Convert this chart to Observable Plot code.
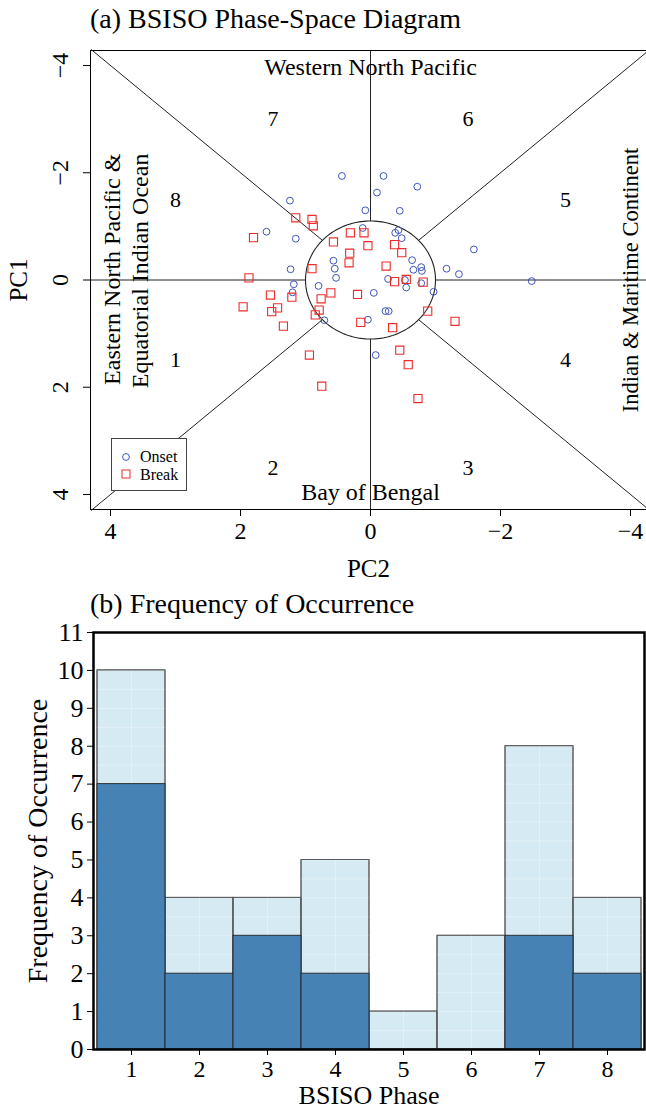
<!DOCTYPE html>
<html><head><meta charset="utf-8">
<script src="https://cdn.jsdelivr.net/npm/d3@7"></script>
<script src="https://cdn.jsdelivr.net/npm/@observablehq/plot@0.6"></script>
<style>
body{margin:0;background:#fff;font-family:"Liberation Serif","Times New Roman",serif;}
#wrap{position:relative;width:646px;height:1111px;overflow:hidden;background:#fff;}
.title{position:absolute;left:90px;font-size:28px;line-height:1;white-space:nowrap;color:#000;}
#panelA{position:absolute;left:0;top:40px;}
#panelB{position:absolute;left:0;top:610px;}
#legend{position:absolute;left:111px;top:438px;width:76px;height:53px;border:1px solid #444;background:#fff;box-sizing:border-box;}
</style></head>
<body><div id="wrap">
<div class="title" style="top:5px">(a) BSISO Phase-Space Diagram</div>
<div id="panelA"></div>
<div id="legend"><svg width="76" height="53" style="font-family:'Liberation Serif',serif;font-size:16px">
<circle cx="14" cy="18" r="3.4" fill="none" stroke="#3d55b8" stroke-width="1"/>
<text x="28" y="23">Onset</text>
<rect x="10" y="31" width="8" height="8" fill="none" stroke="#ee2b2b" stroke-width="1"/>
<text x="28" y="41">Break</text>
</svg></div>
<div class="title" style="top:590px">(b) Frequency of Occurrence</div>
<div id="panelB"></div>
</div>
<script>
// ---- Panel (a) data: BSISO PC2 (x) / PC1 (y) ----
const onsetPC2 = [0.44,-0.20,-0.72,-0.10,1.24,0.08,-0.45,1.60,1.15,0.12,-0.38,-0.43,-0.48,-1.59,0.57,0.55,0.53,1.23,1.18,1.20,0.80,-0.64,-0.66,-0.78,-0.79,-1.17,-1.36,-0.27,-0.55,-0.78,-0.97,-0.05,-0.23,-0.28,0.04,0.71,-0.08,-2.48,-0.53];
const onsetPC1 = [-1.94,-1.94,-1.74,-1.63,-1.48,-1.30,-1.29,-0.90,-0.77,-0.97,-0.88,-0.93,-0.78,-0.57,-0.36,-0.21,-0.04,-0.20,0.08,0.23,0.11,-0.37,-0.19,-0.24,-0.17,-0.21,-0.11,-0.02,0.14,0.06,0.22,0.24,0.58,0.58,0.74,0.75,1.40,0.02,0.00];
const breakPC2 = [1.15,0.90,0.88,1.80,0.57,0.31,0.10,0.04,0.32,0.33,0.90,1.87,-0.24,-0.37,-0.48,-0.55,-0.37,-0.81,0.61,0.20,0.76,1.21,1.54,1.96,1.43,1.52,0.79,0.85,1.34,0.15,-0.34,-0.88,-1.30,-0.45,-0.58,-0.73,0.94,0.75];
const breakPC1 = [-1.16,-1.13,-1.01,-0.79,-0.71,-0.88,-0.88,-0.64,-0.50,-0.32,-0.21,-0.04,-0.26,-0.66,-0.51,-0.01,0.03,0.04,0.24,0.27,0.35,0.32,0.28,0.50,0.52,0.59,0.56,0.65,0.86,0.79,0.89,0.58,0.77,1.31,1.58,2.21,1.40,1.98];
const axisTicksA = [4,2,0,-2,-4];
const phaseLabels = ["1","2","3","4","5","6","7","8"];
const phaseLabelPC2 = [3,1.5,-1.5,-3,-3,-1.5,1.5,3];
const phaseLabelPC1 = [1.5,3.5,3.5,1.5,-1.5,-3,-3,-1.5];
const regionNames = ["Western North Pacific","Bay of Bengal","Eastern North Pacific &","Equatorial Indian Ocean","Indian & Maritime Continent"];
const regionPC2 = [0,0,3.97,3.54,-4.0];
const regionPC1 = [-3.96,3.96,-0.2,-0.17,0];
const regionRotate = [0,0,-90,-90,-90];
const regionSize = [24,24,24,24,22.5];

// ---- Panel (b) data ----
const phases = [1,2,3,4,5,6,7,8];
const freqAll = [10,4,4,5,1,3,8,4];
const freqSubset = [7,2,3,2,0,0,3,2];
const freqTicks = [0,1,2,3,4,5,6,7,8,9,10,11];

const FONT = "Liberation Serif, Times New Roman, serif";
const XL = 4.308, XR = -4.246, YB = 4.28, YT = -4.28;
const intFmt = d3.format("d");

const onset = onsetPC2.map((v,i)=>({pc2:v, pc1:onsetPC1[i]}));
const brk = breakPC2.map((v,i)=>({pc2:v, pc1:breakPC1[i]}));
const phaseText = phaseLabels.map((t,i)=>({t, x:phaseLabelPC2[i], y:phaseLabelPC1[i]}));
const regionText = regionNames.map((t,i)=>({t, x:regionPC2[i], y:regionPC1[i], r:regionRotate[i], s:regionSize[i]}));

// phase-space guides: unit circle (drawn slightly taller as in source) and radial dividers
const RY = 1.1, D = 0.74, E = 4.3;
const circlePts = d3.range(0, 361, 2).map(a => ({x: Math.cos(a*Math.PI/180), y: RY*Math.sin(a*Math.PI/180)}));
const guides = [
  {x1:0,y1:-RY,x2:0,y2:YT},{x1:0,y1:RY,x2:0,y2:YB},
  {x1:1,y1:0,x2:XL,y2:0},{x1:-1,y1:0,x2:XR,y2:0},
  {x1:D,y1:D,x2:E,y2:E},{x1:-D,y1:D,x2:-E,y2:E},
  {x1:D,y1:-D,x2:E,y2:-E},{x1:-D,y1:-D,x2:-E,y2:-E}
];

const plotA = Plot.plot({
  width: 646, height: 545,
  marginTop: 10, marginBottom: 76, marginLeft: 90, marginRight: 0,
  x: {domain: [XL, XR]},
  y: {domain: [YB, YT]},
  style: {fontFamily: FONT, fontSize: "24px", background: "transparent", color: "#000"},
  marks: [
    Plot.link(guides, {x1:"x1", y1:"y1", x2:"x2", y2:"y2", stroke:"#222", strokeWidth:1}),
    Plot.line(circlePts, {x:"x", y:"y", stroke:"#222", strokeWidth:1.1}),
    Plot.ruleX([XL], {y1: YB, y2: YT, stroke:"#000"}),
    Plot.ruleY([YT, YB], {stroke:"#000"}),
    Plot.dot(onset, {x:"pc2", y:"pc1", r:3.4, stroke:"#3d55b8", strokeWidth:1, fill:"none"}),
    Plot.dot(brk, {x:"pc2", y:"pc1", symbol:"square", r:4.6, stroke:"#ee2b2b", strokeWidth:1.1, fill:"none"}),
    Plot.text(phaseText, {x:"x", y:"y", text:"t", fontSize:22}),
    Plot.text(regionText, {x:"x", y:"y", text:"t", rotate:"r", fontSize:"s"}),
    Plot.axisX(axisTicksA, {anchor:"bottom", tickSize:7, tickPadding:5, fontSize:24, tickFormat:intFmt, label:null}),
    Plot.axisY(axisTicksA, {anchor:"left", tickSize:7, tickRotate:-90, tickPadding:16, fontSize:24, tickFormat:intFmt, label:null}),
    Plot.text(["PC1"], {frameAnchor:"left", dx:-72, rotate:-90, textAnchor:"middle", fontSize:25}),
    Plot.text(["PC2"], {frameAnchor:"bottom", dy:67, textAnchor:"middle", fontSize:25})
  ]
});
document.getElementById("panelA").appendChild(plotA);

const freqData = phases.map((p,i)=>({phase:p, total:freqAll[i], sub:freqSubset[i]}));
const plotB = Plot.plot({
  width: 646, height: 501,
  marginTop: 22, marginBottom: 62, marginLeft: 93, marginRight: 2,
  x: {type:"band", domain: phases, padding: 0},
  y: {domain: [0, 11]},
  style: {fontFamily: FONT, fontSize: "26px", background: "transparent", color: "#000"},
  marks: [
    Plot.barY(freqData, {x:"phase", y:"total", fill:"#d5eaf2", stroke:"#555", strokeWidth:0.9}),
    Plot.ruleY(d3.range(0.5, 11, 0.5), {stroke:"#fff", strokeOpacity:0.35}),
    Plot.ruleX(phases, {stroke:"#fff", strokeOpacity:0.35}),
    Plot.barY(freqData, {x:"phase", y:"total", fill:"none", stroke:"#555", strokeWidth:0.9}),
    Plot.barY(freqData, {x:"phase", y:"sub", fill:"steelblue", stroke:"#222", strokeWidth:0.9}),
    Plot.axisY(freqTicks, {anchor:"left", tickSize:6, tickPadding:4, fontSize:26, label:null}),
    Plot.axisX({anchor:"bottom", tickSize:6, tickPadding:4, fontSize:24, label:null}),
    Plot.frame({stroke:"#000", strokeWidth:2.5}),
    Plot.text(["Frequency of Occurrence"], {frameAnchor:"left", dx:-55, rotate:-90, textAnchor:"middle", fontSize:28}),
    Plot.text(["BSISO Phase"], {frameAnchor:"bottom", dy:54, textAnchor:"middle", fontSize:26})
  ]
});
document.getElementById("panelB").appendChild(plotB);
</script>
</body></html>
